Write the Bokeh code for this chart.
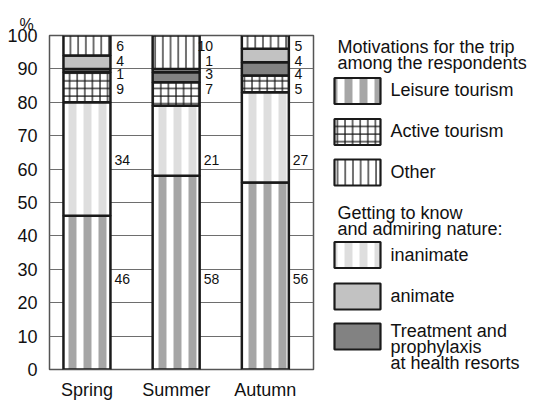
import numpy as np
from bokeh.plotting import figure
from bokeh.models import ColumnDataSource, Range1d, FixedTicker, Spacer
from bokeh.layouts import row
from bokeh.embed import file_html
from bokeh.resources import INLINE
from bokeh.core.properties import value

# ---------------- data ----------------
seasons = ["Spring", "Summer", "Autumn"]
leisure = [46, 58, 56]
inanimate = [34, 21, 27]
active = [9, 7, 5]
treatment = [1, 3, 4]
animate = [4, 1, 4]
other = [6, 10, 5]
y_ticks = [0, 10, 20, 30, 40, 50, 60, 70, 80, 90, 100]
y_unit = "%"

legend_title_1 = ["Motivations for the trip", "among the respondents"]
legend_title_2 = ["Getting to know", "and admiring nature:"]
name_leisure = "Leisure tourism"
name_active = "Active tourism"
name_other = "Other"
name_inanimate = "inanimate"
name_animate = "animate"
name_treatment = ["Treatment and", "prophylaxis", "at health resorts"]

# ---------------- styles ----------------
FONT = "Liberation Sans"
EDGE = "#1a1a1a"
TXT = "#111111"
BAR_W = 0.527
PX = 89.2  # pixels per x unit (layout constant)
TOP_B, BOT_B, FRAME_H = 35, 30, 334

styles = {
    "leisure": dict(fill_color="white", hatch_pattern="|", hatch_color="#a6a6a6", hatch_scale=15, hatch_weight=8),
    "inanimate": dict(fill_color="white", hatch_pattern="|", hatch_color="#dedede", hatch_scale=15, hatch_weight=8),
    "active": dict(fill_color="white", hatch_pattern="+", hatch_color="#111111", hatch_scale=7.6, hatch_weight=1.2),
    "treatment": dict(fill_color="#828282"),
    "animate": dict(fill_color="#c2c2c2"),
    "other": dict(fill_color="white", hatch_pattern="|", hatch_color="#111111", hatch_scale=7.7, hatch_weight=1.2),
}

stack = [("leisure", leisure), ("inanimate", inanimate), ("active", active),
         ("treatment", treatment), ("animate", animate), ("other", other)]

# ---------------- main chart ----------------
p = figure(frame_width=264, frame_height=FRAME_H,
           x_range=Range1d(-0.42, 2.54), y_range=Range1d(0, 100),
           output_backend="svg", toolbar_location=None,
           min_border_left=45, min_border_right=12, min_border_top=TOP_B, min_border_bottom=BOT_B)
p.background_fill_color = "white"
p.border_fill_color = "white"
p.outline_line_color = "#555555"
p.outline_line_width = 1.5

p.title.text = y_unit
p.title.align = "left"
p.title.offset = -30
p.title.standoff = 6
p.title.text_font = FONT
p.title.text_font_size = "16px"
p.title.text_font_style = "normal"
p.title.text_color = TXT

xs = np.arange(len(seasons))
bottom = np.zeros(len(seasons))
for key, vals in stack:
    top = bottom + np.array(vals, dtype=float)
    src = ColumnDataSource(dict(x=xs, bottom=bottom.copy(), top=top))
    p.vbar(x="x", bottom="bottom", top="top", width=BAR_W, source=src,
           line_color=EDGE, line_width=2.5, **styles[key])
    bottom = top

# value labels: large segments (right of bar)
bar_right = xs + BAR_W / 2
for vals, ypos in [(leisure, 27.2), (inanimate, 62.6)]:
    src = ColumnDataSource(dict(x=bar_right + 4 / PX, y=[ypos] * len(xs), t=[str(v) for v in vals]))
    p.text(x="x", y="y", text="t", source=src, text_font=value(FONT), text_font_size="14px",
           text_align="left", text_baseline="middle", text_color=TXT)
# value labels: small segments at top (listed from top down)
for vals, ypos in [(other, 97.0), (animate, 92.3), (treatment, 88.5), (active, 84.1)]:
    src = ColumnDataSource(dict(x=bar_right + 13.5 / PX, y=[ypos] * len(xs), t=[str(v) for v in vals]))
    p.text(x="x", y="y", text="t", source=src, text_font=value(FONT), text_font_size="14px",
           text_align="right", text_baseline="middle", text_color=TXT)

p.xaxis.ticker = FixedTicker(ticks=list(xs))
p.xaxis.major_label_overrides = {int(i): s for i, s in zip(xs, seasons)}
p.yaxis.ticker = FixedTicker(ticks=y_ticks)
for ax in (p.xaxis[0], p.yaxis[0]):
    ax.axis_line_color = None
    ax.major_tick_line_color = None
    ax.minor_tick_line_color = None
    ax.major_label_text_font = FONT
    ax.major_label_text_font_size = "18px"
    ax.major_label_text_color = TXT
p.xaxis.major_label_standoff = 4
p.yaxis.major_label_standoff = 6
p.xgrid.visible = False
p.ygrid.ticker = FixedTicker(ticks=y_ticks)
p.ygrid.grid_line_color = "#6e6e6e"
p.ygrid.grid_line_width = 1.2

# ---------------- legend panel (frame coordinates = page pixels) ----------------
lg = figure(frame_width=209, frame_height=FRAME_H,
            x_range=Range1d(325, 534), y_range=Range1d(TOP_B + FRAME_H, TOP_B),
            output_backend="svg", toolbar_location=None,
            min_border_left=0, min_border_right=0, min_border_top=TOP_B, min_border_bottom=BOT_B,
            x_axis_location=None, y_axis_location=None)
lg.grid.visible = False
lg.outline_line_color = None
lg.background_fill_color = "white"
lg.border_fill_color = "white"

sw_x, sw_w, sw_h, txt_x, head_x = 357, 46, 26, 390, 337
legend_items = [("leisure", 90.5, [name_leisure], [89]),
                ("active", 131.5, [name_active], [130.5]),
                ("other", 172, [name_other], [171.5]),
                ("inanimate", 254.5, [name_inanimate], [254]),
                ("animate", 296, [name_animate], [295]),
                ("treatment", 336, name_treatment, [330, 346, 362])]
for key, yc, labels, ys in legend_items:
    lg.rect(x=[sw_x], y=[yc], width=sw_w, height=sw_h, line_color=EDGE, line_width=2.2, **styles[key])
    lg.text(x=[txt_x] * len(labels), y=ys, text=labels, text_font=value(FONT), text_font_size="18px",
            text_baseline="middle", text_color=TXT)

lg.text(x=[head_x, head_x], y=[46, 62], text=legend_title_1, text_font=value(FONT), text_font_size="18px",
        text_baseline="middle", text_color=TXT)
lg.text(x=[head_x, head_x], y=[212, 228], text=legend_title_2, text_font=value(FONT), text_font_size="18px",
        text_baseline="middle", text_color=TXT)

layout = row(Spacer(width=4, height=TOP_B + FRAME_H + BOT_B), p, lg, spacing=0)
open("out.html", "w").write(file_html(layout, INLINE))
